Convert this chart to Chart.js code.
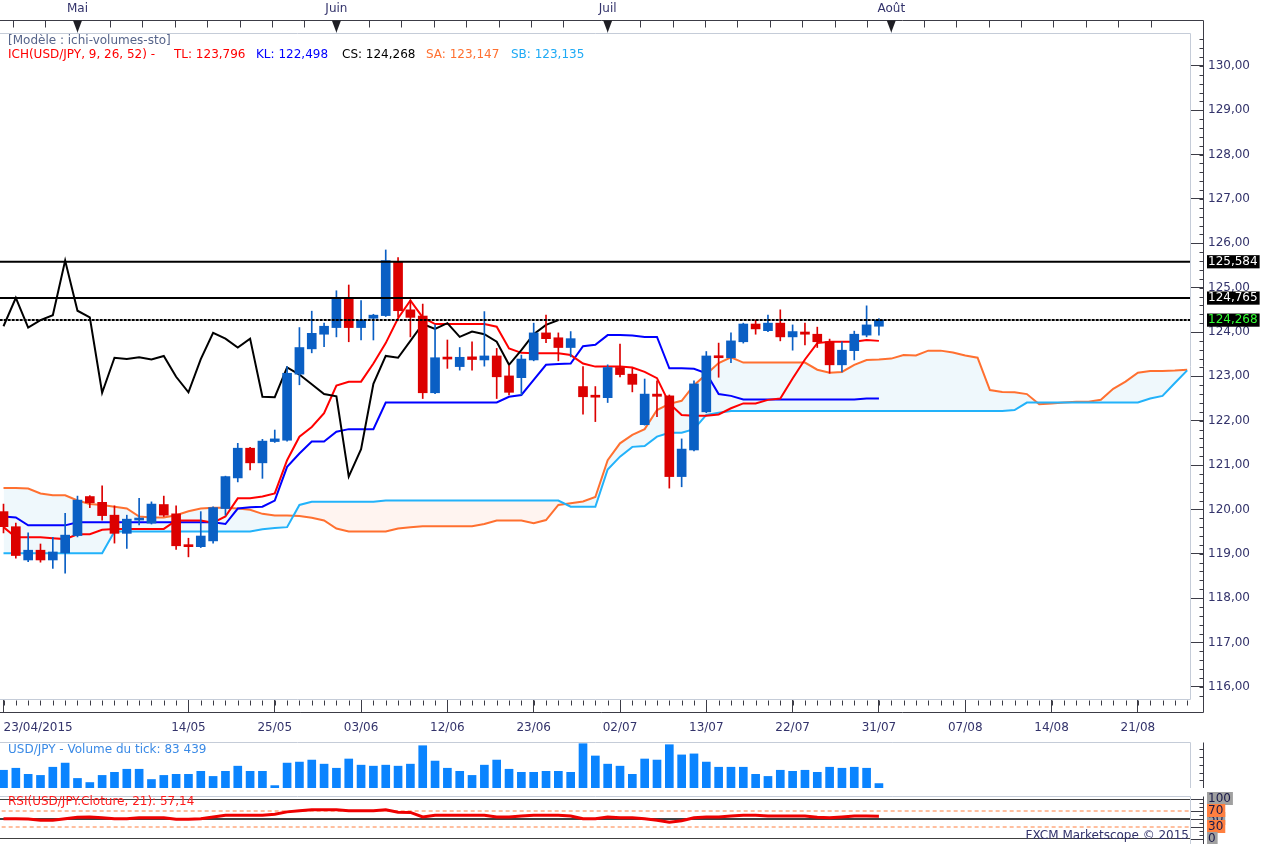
<!DOCTYPE html>
<html lang="fr">
<head>
<meta charset="utf-8">
<title>USD/JPY - ichi-volumes-sto</title>
<script src="https://cdn.jsdelivr.net/npm/chart.js@4.4.1/dist/chart.umd.min.js"></script>
<style>
    html, body { margin: 0; padding: 0; background: #fff; }
    #wrap { position: relative; width: 1263px; height: 844px; overflow: hidden; font-family: "DejaVu Sans", Verdana, sans-serif; font-size: 12px; }
    canvas { position: absolute; left: 0; }
    .txt { position: absolute; white-space: pre; line-height: 14px; z-index: 2; }
</style>
</head>
<body>
<div id="wrap">
    <canvas id="mainChart" width="1263" height="742" style="top:0"></canvas>
    <canvas id="volChart" width="1263" height="46" style="top:742px"></canvas>
    <canvas id="rsiChart" width="1263" height="62" style="top:788px"></canvas>

    <div class="txt" style="left:8px; top:33px; color:#56648a">[Modèle : ichi-volumes-sto]</div>
    <div class="txt" style="left:8px; top:47px; color:#ff0000">ICH(USD/JPY, 9, 26, 52) -</div>
    <div class="txt" style="left:174px; top:47px; color:#ff0000">TL: 123,796</div>
    <div class="txt" style="left:256px; top:47px; color:#0000ff">KL: 122,498</div>
    <div class="txt" style="left:342px; top:47px; color:#000000">CS: 124,268</div>
    <div class="txt" style="left:426px; top:47px; color:#ff7030">SA: 123,147</div>
    <div class="txt" style="left:511px; top:47px; color:#1eaaf5">SB: 123,135</div>

    <div class="txt" style="left:8px; top:742px; color:#3a8ae6">USD/JPY - Volume du tick: 83 439</div>
    <div class="txt" style="left:8px; top:794px; color:#ff1a1a">RSI(USD/JPY.Cloture, 21): 57,14</div>
    <div class="txt" style="right:74px; top:828px; color:#33336b">FXCM Marketscope © 2015</div>
</div>

<script>
// time axis
const monthLabels = ['Mai', 'Juin', 'Juil', 'Août']
const monthIdx = [6, 27, 49, 72]
const dateLabels = ['23/04/2015', '14/05', '25/05', '03/06', '12/06', '23/06', '02/07', '13/07', '22/07', '31/07', '07/08', '14/08', '21/08']
const dateIdx = [0, 15, 22, 29, 36, 43, 50, 57, 64, 71, 78, 85, 92]

// price axis
const priceTicks = [116, 117, 118, 119, 120, 121, 122, 123, 124, 125, 126, 127, 128, 129, 130]
const hLines = [125.584, 124.765, 124.268]

// daily candles 23/04 -> 31/07
const opens = [
    119.95, 119.61, 118.86, 119.08, 118.86, 119.02, 119.41, 120.29, 120.16, 119.87,
    119.46, 119.76, 119.69, 120.11, 119.90, 119.20, 119.16, 119.29, 120.02, 120.71,
    121.38, 121.05, 121.53, 121.56, 123.05, 123.62, 123.95, 124.10, 124.77, 124.10,
    124.31, 124.37, 125.59, 124.50, 124.36, 122.63, 123.41, 123.22, 123.44, 123.37,
    123.46, 123.01, 122.97, 123.37, 123.98, 123.87, 123.65, 122.77, 122.55, 122.52,
    123.20, 123.05, 121.91, 122.60, 122.56, 120.74, 121.34, 122.20, 123.46, 123.42,
    123.78, 124.18, 124.03, 124.20, 123.89, 124.00, 123.95, 123.78, 123.26, 123.58,
    123.93, 124.13
]
const highs = [
    120.12, 119.69, 119.47, 119.22, 119.37, 119.91, 120.30, 120.31, 120.53, 120.08,
    119.87, 120.25, 120.17, 120.30, 120.08, 119.35, 119.95, 120.06, 120.75, 121.49,
    121.40, 121.58, 121.79, 123.22, 124.10, 124.47, 124.20, 124.93, 125.06, 124.71,
    124.40, 125.85, 125.68, 124.72, 124.63, 124.16, 123.82, 123.65, 123.78, 124.46,
    123.63, 123.24, 123.48, 124.20, 124.38, 123.98, 124.01, 123.22, 122.77, 123.26,
    123.73, 123.18, 122.94, 122.90, 122.58, 121.59, 122.90, 123.56, 123.75, 123.98,
    124.20, 124.27, 124.38, 124.50, 124.16, 124.20, 124.11, 123.84, 123.78, 124.02,
    124.59, 124.30
]
const lows = [
    119.47, 118.90, 118.82, 118.81, 118.67, 118.56, 119.38, 120.04, 119.76, 119.24,
    119.12, 119.65, 119.67, 119.84, 119.10, 118.93, 119.14, 119.24, 119.87, 120.62,
    120.89, 120.70, 121.51, 121.54, 122.81, 123.53, 123.67, 123.89, 123.78, 123.82,
    123.82, 124.35, 124.34, 123.89, 122.50, 122.61, 123.18, 123.14, 123.14, 123.23,
    122.50, 122.58, 122.58, 123.35, 123.76, 123.35, 123.44, 122.15, 121.98, 122.41,
    122.99, 122.65, 121.90, 122.09, 120.48, 120.51, 121.32, 122.18, 122.98, 123.31,
    123.75, 123.95, 124.01, 123.80, 123.59, 123.71, 123.65, 123.07, 123.10, 123.37,
    123.89, 123.93
]
const closes = [
    119.61, 118.96, 119.08, 118.86, 119.04, 119.42, 120.21, 120.15, 119.86, 119.46,
    119.78, 119.80, 120.12, 119.87, 119.18, 119.16, 119.40, 120.04, 120.74, 121.38,
    121.05, 121.54, 121.59, 123.07, 123.65, 123.97, 124.13, 124.77, 124.10, 124.27,
    124.38, 125.61, 124.48, 124.33, 122.63, 123.42, 123.39, 123.43, 123.38, 123.46,
    122.99, 122.64, 123.39, 123.98, 123.85, 123.65, 123.85, 122.54, 122.53, 123.20,
    123.04, 122.82, 122.60, 122.55, 120.74, 121.36, 122.83, 123.46, 123.42, 123.80,
    124.18, 124.07, 124.20, 123.89, 124.01, 123.95, 123.78, 123.26, 123.59, 123.95,
    124.16, 124.268
]

// ichimoku
const tenkan = [
    119.60, 119.37, 119.37, 119.37, 119.35, 119.33, 119.44, 119.44, 119.54, 119.56,
    119.56, 119.56, 119.56, 119.56, 119.75, 119.75, 119.75, 119.70, 119.84, 120.25,
    120.25, 120.29, 120.36, 121.11, 121.64, 121.86, 122.17, 122.79, 122.88, 122.88,
    123.29, 123.75, 124.31, 124.71, 124.33, 124.18, 124.18, 124.18, 124.18, 124.18,
    124.12, 123.63, 123.53, 123.52, 123.52, 123.52, 123.48, 123.29, 123.22, 123.22,
    123.22, 123.20, 123.10, 122.96, 122.39, 122.13, 122.11, 122.11, 122.14, 122.28,
    122.39, 122.39, 122.47, 122.50, 122.95, 123.38, 123.75, 123.78, 123.78, 123.78,
    123.82, 123.80
]
const kijun = [
    119.84, 119.82, 119.64, 119.64, 119.64, 119.64, 119.71, 119.71, 119.71, 119.71,
    119.71, 119.71, 119.71, 119.71, 119.71, 119.71, 119.71, 119.71, 119.67, 120.02,
    120.05, 120.06, 120.20, 120.96, 121.26, 121.53, 121.53, 121.75, 121.81, 121.81,
    121.81, 122.41, 122.41, 122.41, 122.41, 122.41, 122.41, 122.41, 122.41, 122.41,
    122.41, 122.54, 122.58, 122.92, 123.26, 123.28, 123.29, 123.68, 123.71, 123.93,
    123.93, 123.92, 123.89, 123.89, 123.18, 123.18, 123.17, 123.07, 122.60, 122.56,
    122.48, 122.48, 122.48, 122.48, 122.48, 122.48, 122.48, 122.48, 122.48, 122.48,
    122.50, 122.50
]
// chikou span, plotted 26 bars back
const chikou = [
    124.13, 124.77, 124.10, 124.27, 124.38, 125.61, 124.48, 124.33, 122.63, 123.42,
    123.39, 123.43, 123.38, 123.46, 122.99, 122.64, 123.39, 123.98, 123.85, 123.65,
    123.85, 122.54, 122.53, 123.20, 123.04, 122.82, 122.60, 122.55, 120.74, 121.36,
    122.83, 123.46, 123.42, 123.80, 124.18, 124.07, 124.20, 123.89, 124.01, 123.95,
    123.78, 123.26, 123.59, 123.95, 124.16, 124.268
]
// senkou spans, projected forward
const senkouA = [
    120.48, 120.48, 120.47, 120.36, 120.32, 120.32, 120.20, 120.12, 120.10, 120.06,
    120.02, 119.84, 119.82, 119.82, 119.87, 119.96, 120.02, 120.04, 120.04, 120.02,
    119.99, 119.90, 119.86, 119.86, 119.85, 119.81, 119.75, 119.57, 119.50, 119.50,
    119.50, 119.50, 119.57, 119.60, 119.62, 119.62, 119.62, 119.62, 119.62, 119.67,
    119.75, 119.75, 119.75, 119.69, 119.76, 120.10, 120.14, 120.18, 120.28, 121.11,
    121.49, 121.68, 121.81, 122.24, 122.38, 122.45, 122.80, 123.05, 123.30, 123.43,
    123.31, 123.31, 123.31, 123.31, 123.31, 123.31, 123.15, 123.08, 123.10, 123.26,
    123.37, 123.38, 123.40, 123.48, 123.47, 123.58, 123.58, 123.54, 123.47, 123.42,
    122.69, 122.65, 122.64, 122.60, 122.37, 122.39, 122.41, 122.43, 122.43, 122.47,
    122.72, 122.88, 123.08, 123.12, 123.12, 123.13, 123.147
]
const senkouB = [
    119.01, 119.01, 119.01, 119.01, 119.01, 119.01, 119.01, 119.01, 119.01, 119.50,
    119.50, 119.50, 119.50, 119.50, 119.50, 119.50, 119.50, 119.50, 119.50, 119.50,
    119.50, 119.55, 119.58, 119.60, 120.10, 120.17, 120.17, 120.17, 120.17, 120.17,
    120.17, 120.20, 120.20, 120.20, 120.20, 120.20, 120.20, 120.20, 120.20, 120.20,
    120.20, 120.20, 120.20, 120.20, 120.20, 120.20, 120.06, 120.06, 120.06, 120.90,
    121.19, 121.41, 121.43, 121.64, 121.73, 121.73, 121.81, 122.13, 122.18, 122.22,
    122.22, 122.22, 122.22, 122.22, 122.22, 122.22, 122.22, 122.22, 122.22, 122.22,
    122.22, 122.22, 122.22, 122.22, 122.22, 122.22, 122.22, 122.22, 122.22, 122.22,
    122.22, 122.22, 122.24, 122.41, 122.41, 122.41, 122.41, 122.41, 122.41, 122.41,
    122.41, 122.41, 122.41, 122.50, 122.56, 122.85, 123.135
]

// tick volume
const volumes = [
    334000, 372000, 257000, 237000, 391000, 469000, 180000, 103000, 237000, 295000,
    353000, 353000, 160000, 237000, 257000, 257000, 314000, 218000, 314000, 411000,
    314000, 314000, 45000, 469000, 488000, 526000, 449000, 372000, 546000, 430000,
    411000, 430000, 411000, 449000, 796000, 507000, 372000, 314000, 237000, 430000,
    526000, 353000, 295000, 295000, 314000, 314000, 295000, 834000, 603000, 449000,
    411000, 257000, 546000, 526000, 815000, 623000, 642000, 488000, 391000, 391000,
    391000, 257000, 218000, 334000, 314000, 334000, 295000, 391000, 372000, 391000,
    372000, 83439
]

// RSI 21
const rsi = [
    50.7, 50.7, 49.8, 47.0, 47.0, 50.7, 54.5, 55.2, 53.0, 50.7,
    50.7, 53.0, 53.0, 53.0, 49.3, 49.3, 50.7, 55.2, 59.6, 59.6,
    59.6, 59.6, 61.9, 67.8, 70.9, 73.2, 73.2, 73.2, 70.9, 70.9,
    70.9, 73.2, 67.0, 66.4, 55.2, 59.6, 59.6, 59.6, 59.6, 59.6,
    55.2, 55.2, 57.5, 59.6, 59.6, 59.6, 57.5, 50.7, 50.7, 55.2,
    53.0, 53.0, 50.7, 47.0, 41.7, 45.5, 53.0, 55.2, 55.2, 57.5,
    59.6, 59.6, 57.5, 57.5, 57.5, 57.5, 54.5, 53.0, 55.2, 57.5,
    57.5, 57.14
]
const rsiLevels = [100, 70, 50, 30, 0]
const rsiTicks = [50, 100, 70, 30, 0]

// layout of the shared time axis
const BAR_PX = 12.33
const X_MIN = -3.5 / BAR_PX
const X_MAX = X_MIN + 1190 / BAR_PX

const FONT = '"DejaVu Sans", Verdana, sans-serif'
const AXIS_TEXT = '#33336b'
const UP = '#0a5fc4'
const DOWN = '#dc0000'

Chart.defaults.font.family = FONT
Chart.defaults.font.size = 12
Chart.defaults.color = AXIS_TEXT

const fmt = (v, d) => v.toFixed(d).replace('.', ',')
const pts = (arr) => arr.map((y, i) => ({ x: i, y }))
const flat = (y) => [{ x: X_MIN - 1, y }, { x: X_MAX + 1, y }]

// frame, axis lines and small ticks
const panelFrame = {
    id: 'panelFrame',
    afterDraw(chart, args, opts) {
        const ctx = chart.ctx
        const a = chart.chartArea
        const xs = chart.scales.x
        const ys = chart.scales.y
        const right = Math.round(a.right) + 0.5
        const axisX = Math.round(a.right) + 13.5
        const top = Math.round(a.top - (opts.gapTop || 0)) + 0.5
        const bottom = Math.round(a.bottom) + 0.5
        ctx.save()
        ctx.lineWidth = 1

        ctx.strokeStyle = '#c5ccd8'
        ctx.beginPath()
        ctx.moveTo(a.left, top)
        ctx.lineTo(right, top)
        ctx.lineTo(right, opts.openBottom ? chart.height : bottom)
        if (opts.frameBottom) ctx.lineTo(a.left, bottom)
        ctx.stroke()

        ctx.strokeStyle = '#3c3c46'
        ctx.beginPath()
        ctx.moveTo(axisX, top + (opts.axisFrom || 0))
        ctx.lineTo(axisX, opts.openBottom ? chart.height : bottom + (opts.axisTo || 0))
        if (opts.minorStep) {
            const step = opts.minorStep
            for (let k = Math.ceil(ys.min / step); k * step <= ys.max; k++) {
                const py = Math.round(ys.getPixelForValue(k * step)) + 0.5
                ctx.moveTo(axisX - 4, py)
                ctx.lineTo(axisX, py)
            }
        }
        ctx.stroke()

        if (opts.timeAxis) {
            const topLine = Math.round(a.top) - 13 + 0.5
            const botLine = Math.round(a.bottom) + 13 + 0.5
            ctx.beginPath()
            ctx.moveTo(0, topLine)
            ctx.lineTo(axisX, topLine)
            ctx.moveTo(0, botLine)
            ctx.lineTo(axisX, botLine)
            // one small tick per bar under the plot
            for (let i = 0; i <= Math.floor(X_MAX); i++) {
                const px = Math.round(xs.getPixelForValue(i)) + 0.5
                ctx.moveTo(px, bottom + 1)
                ctx.lineTo(px, bottom + 6)
            }
            // small ticks along the month axis
            const bounds = [X_MIN].concat(monthIdx, [X_MAX])
            for (let m = 0; m < monthIdx.length; m++) {
                for (let v = monthIdx[m] + 2.63; v < bounds[m + 2] - 1; v += 2.63) {
                    const px = Math.round(xs.getPixelForValue(v)) + 0.5
                    ctx.moveTo(px, topLine)
                    ctx.lineTo(px, topLine + 7)
                }
            }
            for (let v = monthIdx[0] - 2.63; v > X_MIN; v -= 2.63) {
                const px = Math.round(xs.getPixelForValue(v)) + 0.5
                ctx.moveTo(px, topLine)
                ctx.lineTo(px, topLine + 7)
            }
            ctx.stroke()

            ctx.fillStyle = '#1e1e24'
            monthIdx.forEach((m) => {
                const px = xs.getPixelForValue(m)
                ctx.beginPath()
                ctx.moveTo(px - 4.5, topLine)
                ctx.lineTo(px + 4.5, topLine)
                ctx.lineTo(px, topLine + 12)
                ctx.closePath()
                ctx.fill()
            })
        }
        ctx.restore()
    },
}

const baseOptions = {
    responsive: false,
    animation: false,
    events: [],
}

// main chart : candles + ichimoku
const isLevel = (v) => hLines.includes(v)
const lineDs = (data, color, width) => ({
    type: 'line',
    data,
    borderColor: color,
    borderWidth: width,
    pointRadius: 0,
    tension: 0,
    fill: false,
})

new Chart(document.getElementById('mainChart'), {
    type: 'bar',
    data: {
        datasets: [
            lineDs(flat(hLines[0]), '#000', 2),
            lineDs(flat(hLines[1]), '#000', 2),
            Object.assign(lineDs(flat(hLines[2]), '#000', 2), { borderDash: [3, 1] }),
            {
                data: opens.map((o, i) => ({ x: i, y: [o, closes[i]] })),
                backgroundColor: opens.map((o, i) => (closes[i] >= o ? UP : DOWN)),
                barThickness: 9,
                minBarLength: 2,
                grouped: false,
                borderWidth: 0,
            },
            {
                data: opens.map((o, i) => ({ x: i, y: [lows[i], highs[i]] })),
                backgroundColor: opens.map((o, i) => (closes[i] >= o ? UP : DOWN)),
                barThickness: 1,
                grouped: false,
                borderWidth: 0,
            },
            lineDs(pts(chikou), '#000000', 2),
            lineDs(pts(tenkan), '#ff0000', 2),
            lineDs(pts(kijun), '#0000ff', 2),
            lineDs(pts(senkouB), '#22b2fa', 2),
            Object.assign(lineDs(pts(senkouA), '#ff7030', 2), {
                fill: { target: 8, above: '#eff8fc', below: '#fff4f0' },
            }),
        ],
    },
    options: Object.assign({}, baseOptions, {
        layout: { padding: 0 },
        plugins: {
            legend: { display: false },
            tooltip: { enabled: false },
            filler: { drawTime: 'beforeDatasetsDraw' },
            panelFrame: { frameBottom: true, axisFrom: -13, axisTo: 13, minorStep: 0.2, timeAxis: true },
        },
        scales: {
            x: {
                type: 'linear',
                position: 'bottom',
                min: X_MIN,
                max: X_MAX,
                offset: false,
                afterBuildTicks: (axis) => {
                    axis.ticks = dateIdx.concat([X_MAX]).map((v) => ({ value: v }))
                },
                afterFit: (axis) => {
                    axis.height = 43
                },
                border: { display: false },
                grid: {
                    offset: false,
                    drawOnChartArea: false,
                    tickLength: 13,
                    tickColor: (c) => (c.tick && c.tick.value === X_MAX ? 'rgba(0,0,0,0)' : '#3c3c46'),
                },
                ticks: {
                    autoSkip: false,
                    maxRotation: 0,
                    align: 'inner',
                    padding: 0,
                    // tall line box pushes the dates below the tick marks
                    font: { family: FONT, size: 12, lineHeight: 2.6 },
                    color: AXIS_TEXT,
                    callback: (v) => {
                        const k = dateIdx.indexOf(v)
                        return k < 0 ? '' : dateLabels[k]
                    },
                },
            },
            xTop: {
                type: 'linear',
                position: 'top',
                min: X_MIN,
                max: X_MAX,
                offset: false,
                afterBuildTicks: (axis) => {
                    axis.ticks = monthIdx.map((v) => ({ value: v }))
                },
                afterFit: (axis) => {
                    axis.height = 33
                },
                border: { display: false },
                grid: { offset: false, drawOnChartArea: false, tickLength: 13, tickColor: '#c5ccd8' },
                ticks: {
                    autoSkip: false,
                    maxRotation: 0,
                    padding: 4,
                    color: AXIS_TEXT,
                    callback: (v) => monthLabels[monthIdx.indexOf(v)],
                },
            },
            y: {
                position: 'right',
                min: 115.725,
                max: 130.742,
                afterBuildTicks: (axis) => {
                    axis.ticks = priceTicks.concat(hLines).map((v) => ({ value: v }))
                },
                afterFit: (axis) => {
                    axis.width = 73
                },
                border: { display: false },
                grid: {
                    drawOnChartArea: false,
                    tickLength: 13,
                    tickColor: (c) => (c.tick && isLevel(c.tick.value) ? 'rgba(0,0,0,0)' : '#3c3c46'),
                },
                ticks: {
                    autoSkip: false,
                    padding: 5,
                    font: { family: FONT, size: 12, lineHeight: 1.1 },
                    color: (c) => {
                        if (!c.tick || !isLevel(c.tick.value)) return AXIS_TEXT
                        return c.tick.value === hLines[2] ? '#33ff33' : '#ffffff'
                    },
                    showLabelBackdrop: (c) => !!(c.tick && isLevel(c.tick.value)),
                    backdropColor: '#000000',
                    backdropPadding: { top: 0, bottom: 0, left: 1, right: 2 },
                    callback: (v) => (isLevel(v) ? fmt(v, 3) : fmt(v, 2)),
                },
            },
        },
    }),
    plugins: [panelFrame],
})

// volume panel
new Chart(document.getElementById('volChart'), {
    type: 'bar',
    data: {
        datasets: [
            {
                data: pts(volumes),
                backgroundColor: '#0a84ff',
                barThickness: 8,
                borderWidth: 0,
            },
        ],
    },
    options: Object.assign({}, baseOptions, {
        layout: { padding: 0 },
        plugins: {
            legend: { display: false },
            tooltip: { enabled: false },
            panelFrame: { frameBottom: true, minorStep: 145000 },
        },
        scales: {
            x: { type: 'linear', min: X_MIN, max: X_MAX, offset: false, display: false, grid: { offset: false } },
            y: {
                position: 'right',
                min: 0,
                max: 866000,
                afterFit: (axis) => {
                    axis.width = 73
                },
                border: { display: false },
                grid: { display: false },
                ticks: { display: false },
            },
        },
    }),
    plugins: [panelFrame],
})

// RSI panel
const levelStyle = (v) =>
    v === 70 || v === 30
        ? { borderColor: '#ff7f3f', borderWidth: 1, borderDash: [4, 3] }
        : { borderColor: '#000000', borderWidth: 1.5 }

new Chart(document.getElementById('rsiChart'), {
    type: 'line',
    data: {
        datasets: [lineDs(pts(rsi), '#ee0000', 3)].concat(
            rsiLevels.map((v) => Object.assign(lineDs(flat(v), '#000', 1), levelStyle(v)))
        ),
    },
    options: Object.assign({}, baseOptions, {
        layout: { padding: { top: 7.7, bottom: 9.7, left: 0, right: 0 } },
        plugins: {
            legend: { display: false },
            tooltip: { enabled: false },
            panelFrame: { gapTop: 3, openBottom: true, minorStep: 10 },
        },
        scales: {
            x: { type: 'linear', min: X_MIN, max: X_MAX, offset: false, display: false },
            y: {
                position: 'right',
                min: 0,
                max: 100,
                afterBuildTicks: (axis) => {
                    axis.ticks = rsiTicks.map((v) => ({ value: v }))
                },
                afterFit: (axis) => {
                    axis.width = 73
                },
                border: { display: false },
                grid: { drawOnChartArea: false, tickLength: 13, tickColor: '#3c3c46' },
                ticks: {
                    autoSkip: false,
                    padding: 5,
                    font: { family: FONT, size: 12, lineHeight: 1.0 },
                    color: '#1a1a4a',
                    showLabelBackdrop: true,
                    backdropColor: (c) => (c.tick && (c.tick.value === 70 || c.tick.value === 30) ? '#ff7f3f' : '#a0a0a0'),
                    backdropPadding: { top: 1, bottom: 0, left: 1, right: 2 },
                    callback: (v) => String(v),
                },
            },
        },
    }),
    plugins: [panelFrame],
})
</script>
</body>
</html>
